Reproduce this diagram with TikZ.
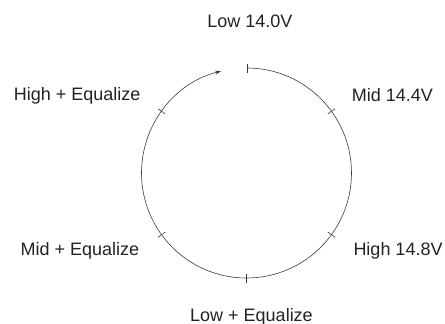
\documentclass[tikz,border=0pt]{standalone}
\usepackage{fontspec}
\setmainfont{Liberation Sans}
\usetikzlibrary{arrows.meta,calc}
\definecolor{cyline}{HTML}{3A3A3A}
\definecolor{cytext}{HTML}{222222}

\begin{document}
\begin{tikzpicture}[x=1pt, y=1pt,
  lbl/.style={text=cytext, inner sep=0pt, font=\fontsize{18}{20}\selectfont},
  cyc/.style={draw=cyline, line width=0.6pt}]
  \useasboundingbox (0,0) rectangle (445,-324);
  \coordinate (ctr) at (246.5,-173);

  % Cycle
  \draw[cyc, {Bar[width=9pt]}-{Stealth[length=6pt, width=4pt]}]
    ($(ctr)+(90:105)$) arc[start angle=90, end angle=-256, radius=105];
  \foreach \a in {36,-36,-90,-144,144}
    \draw[cyc] ($(ctr)+(\a:100.5)$) -- ($(ctr)+(\a:109.5)$);

  % States
  \node[lbl, anchor=base] (low) at (250,-27.3) {Low 14.0V};
  \node[lbl, anchor=base west] (mid) at (351.7,-101.7) {Mid 14.4V};
  \node[lbl, anchor=base west] (high) at (353.3,-255) {High 14.8V};
  \node[lbl, anchor=base] (loweq) at (251.5,-321.5) {Low + Equalize};
  \node[lbl, anchor=base east] (mideq) at (139.3,-255) {Mid + Equalize};
  \node[lbl, anchor=base east] (higheq) at (140.7,-100) {High + Equalize};
\end{tikzpicture}
\end{document}
